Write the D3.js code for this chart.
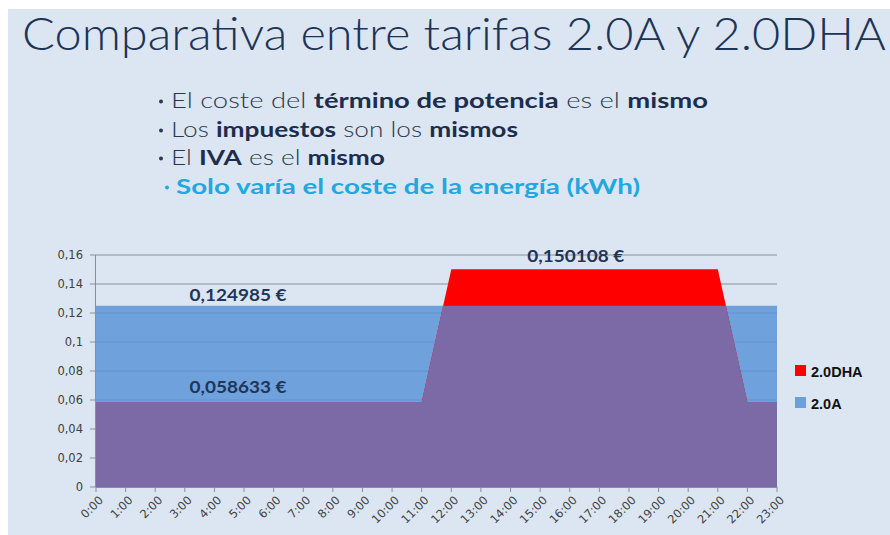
<!DOCTYPE html>
<html>
<head>
<meta charset="utf-8">
<script src="https://cdn.jsdelivr.net/npm/d3@7"></script>
<style>
  body { margin: 0; background: #fff; }
  svg { display: block; }
</style>
</head>
<body>
<div id="container"></div>
<script>
// chart data
var hours = ["0:00", "1:00", "2:00", "3:00", "4:00", "5:00", "6:00", "7:00", "8:00", "9:00", "10:00", "11:00",
    "12:00", "13:00", "14:00", "15:00", "16:00", "17:00", "18:00", "19:00", "20:00", "21:00", "22:00", "23:00"];

var tarifa20A = [0.124985, 0.124985, 0.124985, 0.124985, 0.124985, 0.124985, 0.124985, 0.124985,
    0.124985, 0.124985, 0.124985, 0.124985, 0.124985, 0.124985, 0.124985, 0.124985,
    0.124985, 0.124985, 0.124985, 0.124985, 0.124985, 0.124985, 0.124985, 0.124985];

var tarifa20DHA = [0.058633, 0.058633, 0.058633, 0.058633, 0.058633, 0.058633, 0.058633, 0.058633,
    0.058633, 0.058633, 0.058633, 0.058633, 0.150108, 0.150108, 0.150108, 0.150108,
    0.150108, 0.150108, 0.150108, 0.150108, 0.150108, 0.150108, 0.058633, 0.058633];

var yTicks = [0, 0.02, 0.04, 0.06, 0.08, 0.1, 0.12, 0.14, 0.16];
var yTickLabels = ["0", "0,02", "0,04", "0,06", "0,08", "0,1", "0,12", "0,14", "0,16"];

var seriesNames = ["2.0DHA", "2.0A"];

var priceLabels = ["0,124985 €", "0,058633 €", "0,150108 €"];
var priceLabelHour = ["5:00", "5:00", "16:00"];
var priceLabelValue = [0.124985, 0.058633, 0.150108];

var titleText = "Comparativa entre tarifas 2.0A y 2.0DHA";
var bullets = [
    [["El coste del ", false], ["término de potencia", true], [" es el ", false], ["mismo", true]],
    [["Los ", false], ["impuestos", true], [" son los ", false], ["mismos", true]],
    [["El ", false], ["IVA", true], [" es el ", false], ["mismo", true]],
    [["Solo varía el coste de la energía (kWh)", true]]
];

(function () {
    var width = 890, height = 535;
    var margin = { left: 96, right: 113, top: 255, bottom: 48 };

    var svg = d3.select('#container')
        .append("svg")
        .attr("width", width)
        .attr("height", height);

    // slide background
    svg.append("rect").attr("width", width).attr("height", height).attr("fill", "#ffffff");
    svg.append("rect").attr("x", 8).attr("y", 9).attr("width", width - 8).attr("height", height - 9)
        .attr("fill", "#dce6f2");

    // title
    svg.append("text")
        .attr("x", 22).attr("y", 50)
        .attr("textLength", 864).attr("lengthAdjust", "spacingAndGlyphs")
        .style("font-family", "Lato, 'Open Sans', sans-serif")
        .style("font-weight", 300)
        .style("font-size", "45px")
        .attr("fill", "#1c3456")
        .text(titleText);

    // bullet lines
    var bulletY = [108, 137, 165, 194];
    var bulletX = [161, 161, 161, 167];
    var lineStart = [171, 171, 171, 176];
    var lineWidth = [537, 347, 214, 464];
    bullets.forEach(function (line, i) {
        var last = i === bullets.length - 1;
        svg.append("circle")
            .attr("cx", bulletX[i]).attr("cy", bulletY[i] - 6.5)
            .attr("r", 2)
            .attr("fill", last ? "#22a7df" : "#2a3850");
        var t = svg.append("text")
            .attr("x", lineStart[i]).attr("y", bulletY[i])
            .attr("textLength", lineWidth[i]).attr("lengthAdjust", "spacingAndGlyphs")
            .style("font-family", "Lato, sans-serif")
            .style("font-size", "21px");
        line.forEach(function (part) {
            t.append("tspan")
                .style("font-weight", part[1] ? 700 : 300)
                .attr("fill", last ? "#22a7df" : (part[1] ? "#1d2d4e" : "#2a3850"))
                .text(part[0]);
        });
    });

    /*********************************
     * chart
     * ********************************/
    var x = d3.scalePoint()
        .domain(hours)
        .range([margin.left, width - margin.right]);

    var y = d3.scaleLinear()
        .domain([0, 0.16])
        .range([height - margin.bottom, margin.top]);

    // gridlines
    svg.append("g")
        .selectAll("line")
        .data(yTicks.slice(1))
        .enter()
        .append("line")
        .attr("x1", x(hours[0])).attr("x2", x(hours[hours.length - 1]))
        .attr("y1", function (d) { return y(d); })
        .attr("y2", function (d) { return y(d); })
        .attr("stroke", "#8a8f96").attr("stroke-width", 1);

    var area = function (values) {
        return d3.area()
            .x(function (d, i) { return x(hours[i]); })
            .y0(y(0))
            .y1(function (d) { return y(d); })(values);
    };

    // 2.0A (semi transparent, gridlines show through)
    svg.append("path")
        .attr("d", area(tarifa20A))
        .attr("fill", "rgb(92,148,216)")
        .attr("fill-opacity", 0.85);

    // 2.0DHA
    svg.append("path")
        .attr("d", area(tarifa20DHA))
        .attr("fill", "#ff0000");

    // overlap of the two series
    svg.append("clipPath").attr("id", "clipA")
        .append("path").attr("d", area(tarifa20A));
    svg.append("path")
        .attr("d", area(tarifa20DHA))
        .attr("clip-path", "url(#clipA)")
        .attr("fill", "#7b6aa5");

    // axes
    var axisColor = "#8a8f96";
    var tickFont = "'DejaVu Sans', sans-serif";
    var yAxis = svg.append("g");
    yAxis.append("line")
        .attr("x1", x(hours[0]) - 0.5).attr("x2", x(hours[0]) - 0.5)
        .attr("y1", y(0)).attr("y2", y(0.16))
        .attr("stroke", axisColor);
    yAxis.selectAll("line.tick")
        .data(yTicks)
        .enter()
        .append("line")
        .attr("class", "tick")
        .attr("x1", x(hours[0]) - 6).attr("x2", x(hours[0]))
        .attr("y1", function (d) { return y(d); })
        .attr("y2", function (d) { return y(d); })
        .attr("stroke", axisColor);
    yAxis.selectAll("text")
        .data(yTicks)
        .enter()
        .append("text")
        .attr("x", x(hours[0]) - 13)
        .attr("y", function (d) { return y(d); })
        .attr("dy", "0.35em")
        .attr("text-anchor", "end")
        .style("font-family", tickFont)
        .style("font-size", "11.5px")
        .attr("fill", "#404040")
        .text(function (d, i) { return yTickLabels[i]; });

    var xAxis = svg.append("g");
    xAxis.append("line")
        .attr("x1", x(hours[0])).attr("x2", x(hours[hours.length - 1]))
        .attr("y1", y(0) + 0.5).attr("y2", y(0) + 0.5)
        .attr("stroke", axisColor);
    xAxis.selectAll("line.tick")
        .data(hours)
        .enter()
        .append("line")
        .attr("class", "tick")
        .attr("x1", function (d) { return x(d); })
        .attr("x2", function (d) { return x(d); })
        .attr("y1", y(0)).attr("y2", y(0) + 5)
        .attr("stroke", axisColor);
    xAxis.selectAll("text")
        .data(hours)
        .enter()
        .append("text")
        .attr("transform", function (d) {
            return "translate(" + (x(d) + 5) + "," + (y(0) + 11) + ") rotate(-45)";
        })
        .attr("text-anchor", "end")
        .attr("dy", "0.35em")
        .style("font-family", tickFont)
        .style("font-size", "11.5px")
        .attr("fill", "#404040")
        .text(function (d) { return d; });

    // price labels
    var labelDx = [-6, -6, 6];
    var labelDy = [-5, -9, -7];
    svg.selectAll("text.price")
        .data(priceLabels)
        .enter()
        .append("text")
        .attr("class", "price")
        .attr("x", function (d, i) { return x(priceLabelHour[i]) + labelDx[i]; })
        .attr("y", function (d, i) { return y(priceLabelValue[i]) + labelDy[i]; })
        .attr("text-anchor", "middle")
        .attr("textLength", 97).attr("lengthAdjust", "spacingAndGlyphs")
        .style("font-family", "Lato, sans-serif")
        .style("font-weight", 700)
        .style("font-size", "17px")
        .attr("fill", "#1f3658")
        .text(function (d) { return d; });

    // legend
    var legendColors = ["#ff0000", "#6f9fdb"];
    var legend = svg.selectAll("g.legend")
        .data(seriesNames)
        .enter()
        .append("g")
        .attr("class", "legend")
        .attr("transform", function (d, i) { return "translate(795," + (365 + i * 32) + ")"; });
    legend.append("rect")
        .attr("width", 11).attr("height", 11)
        .attr("fill", function (d, i) { return legendColors[i]; });
    legend.append("text")
        .attr("x", 16).attr("y", 11.5)
        .style("font-family", "'Liberation Sans', Arial, sans-serif")
        .style("font-weight", 700)
        .style("font-size", "14.5px")
        .attr("fill", "#111111")
        .text(function (d) { return d; });
})();
</script>
</body>
</html>
